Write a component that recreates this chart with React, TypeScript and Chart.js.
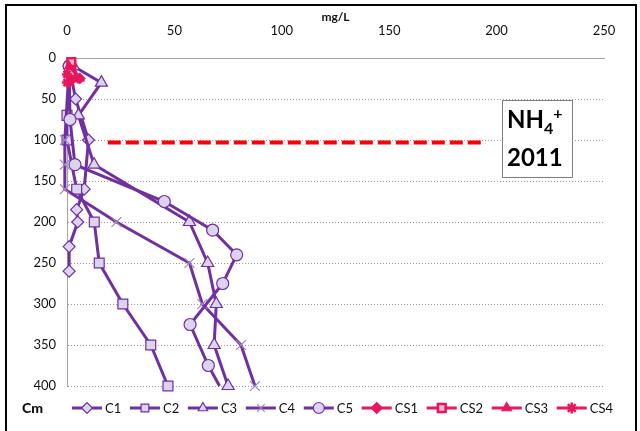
import React, { useEffect, useRef } from 'react';
import { Chart, registerables } from 'chart.js';
import { drawPoint } from 'chart.js/helpers';

Chart.register(...registerables);

// ---- data (concentration mg/L vs depth cm) ----
const c1Depth = [10, 50, 100, 160, 185, 200, 230, 260];
const c1Conc = [1, 4, 10, 8, 4.5, 5, 1, 1];

const c2Depth = [10, 70, 100, 160, 200, 250, 300, 350, 400];
const c2Conc = [1.5, 0, 0, 4.5, 12.7, 15, 26, 39, 47];

const c3Depth = [10, 30, 70, 130, 200, 250, 300, 350, 400];
const c3Conc = [3, 16, 5.3, 12.6, 57, 65.5, 69.5, 68.5, 75];

const c4Depth = [10, 100, 130, 160, 200, 250, 300, 350, 400];
const c4Conc = [1, -1, -1, -1, 23, 57, 63, 81, 87.5];

const c5Depth = [10, 75, 130, 175, 210, 240, 275, 325, 375, 400];
const c5Conc = [1, 1.4, 3.7, 45.3, 67.8, 79, 72.5, 57.3, 65.8, 71];

const cs1Depth = [10, 25, 30];
const cs1Conc = [2, 6, 1];
const cs2Depth = [5, 18];
const cs2Conc = [2, 2];
const cs3Depth = [10, 25, 30];
const cs3Conc = [1, 6, 1];
const cs4Depth = [20, 25, 30];
const cs4Conc = [0, 5, 0];

const refLineConc = [19, 195];
const refLineDepth = [103, 103];

const xMin = 0;
const xMax = 250;
const xStep = 50;
const yMin = 0;
const yMax = 400;
const yStep = 50;

const seriesLabels = ['C1', 'C2', 'C3', 'C4', 'C5', 'CS1', 'CS2', 'CS3', 'CS4'];

const PURPLE = '#7030A0';
const LAV = '#DCD4EC';
const PINK = '#E8175D';
const FONT = 'Lato, "Open Sans", sans-serif';

function pts(xs: number[], ys: number[]) {
  return xs.map((v, i) => ({ x: v, y: ys[i] }));
}

const legendPlugin = {
  id: 'customLegend',
  afterDraw(chart: any) {
    const ctx = chart.ctx as CanvasRenderingContext2D;
    ctx.save();
    ctx.font = '13px ' + FONT;
    ctx.textBaseline = 'middle';
    const items = chart.data.datasets.filter((d: any) => !d.noLegend);
    const lineLen = 30;
    const textGap = 3;
    const startX = 72;
    const endX = 613;
    let total = 0;
    items.forEach((d: any) => {
      total += lineLen + textGap + ctx.measureText(d.label).width;
    });
    const gap = (endX - startX - total) / (items.length - 1);
    const y = 408;
    let x = startX;
    items.forEach((d: any) => {
      ctx.setLineDash([]);
      ctx.strokeStyle = d.borderColor;
      ctx.lineWidth = d.borderWidth;
      ctx.beginPath();
      ctx.moveTo(x, y);
      ctx.lineTo(x + lineLen, y);
      ctx.stroke();
      ctx.fillStyle = d.pointBackgroundColor;
      ctx.strokeStyle = d.pointBorderColor;
      ctx.lineWidth = d.pointBorderWidth;
      drawPoint(ctx, { pointStyle: d.pointStyle, rotation: 0, radius: 5.5, borderWidth: d.pointBorderWidth } as any, x + lineLen / 2, y);
      ctx.fillStyle = '#111';
      ctx.fillText(d.label, x + lineLen + textGap, y + 1);
      x += lineLen + textGap + ctx.measureText(d.label).width + gap;
    });
    ctx.restore();
  },
};

export default function App() {
  const ref = useRef<HTMLCanvasElement | null>(null);

  useEffect(() => {
    if (!ref.current) return;
    const mk = (i: number, xs: number[], ys: number[], style: string, pink: boolean, extra: any = {}) => ({
      label: seriesLabels[i],
      data: pts(xs, ys),
      borderColor: pink ? PINK : PURPLE,
      borderWidth: 3,
      pointStyle: style,
      pointRadius: 6,
      pointBackgroundColor: pink ? PINK : LAV,
      pointBorderColor: pink ? PINK : PURPLE,
      pointBorderWidth: 1.2,
      showLine: true,
      tension: 0,
      clip: false,
      order: 20 - i,
      ...extra,
    });
    const datasets: any[] = [
      mk(0, c1Conc, c1Depth, 'rectRot', false, { pointRadius: 6 }),
      mk(1, c2Conc, c2Depth, 'rect', false, { pointRadius: 7 }),
      mk(2, c3Conc, c3Depth, 'triangle', false, { pointRadius: 7 }),
      mk(3, c4Conc, c4Depth, 'crossRot', false, { pointRadius: 7, pointBorderColor: '#9C86C8', pointBorderWidth: 1.2 }),
      mk(4, c5Conc, c5Depth, 'circle', false, {
        pointRadius: c5Depth.map((_, i) => (i === c5Depth.length - 1 ? 0 : 6)),
      }),
      mk(5, cs1Conc, cs1Depth, 'rectRot', true, { pointRadius: 5 }),
      mk(6, cs2Conc, cs2Depth, 'rect', true, { pointRadius: 5.5, pointBackgroundColor: '#F7B7CB', pointBorderWidth: 2.5 }),
      mk(7, cs3Conc, cs3Depth, 'triangle', true, { pointRadius: 5 }),
      mk(8, cs4Conc, cs4Depth, 'star', true, { pointRadius: 5, pointBorderWidth: 2.5 }),
      {
        label: '',
        noLegend: true,
        data: pts(refLineConc, refLineDepth),
        borderColor: '#FF0000',
        borderWidth: 4,
        borderDash: [13, 5],
        pointRadius: 0,
        showLine: true,
        order: 0,
      },
    ];

    const chart = new Chart(ref.current, {
      type: 'line',
      data: { datasets },
      options: {
        animation: false,
        responsive: false,
        maintainAspectRatio: false,
        layout: { padding: { left: 0, top: 0, right: 36, bottom: 45 } },
        plugins: { legend: { display: false }, tooltip: { enabled: false } },
        scales: {
          x: {
            type: 'linear',
            position: 'top',
            min: xMin,
            max: xMax,
            ticks: { stepSize: xStep, padding: 19, color: '#111', font: { family: FONT, size: 13 } },
            grid: { display: false, drawTicks: false },
            border: { display: true, color: '#A6A6A6', width: 1 },
            title: {
              display: true,
              text: 'mg/L',
              color: '#111',
              font: { family: FONT, size: 12, weight: 'bold' },
              padding: { top: 10, bottom: 0 },
            },
            afterFit: (s: any) => {
              s.height = 58;
            },
          },
          y: {
            type: 'linear',
            reverse: true,
            min: yMin,
            max: yMax,
            ticks: { stepSize: yStep, padding: 11, color: '#111', font: { family: FONT, size: 13 } },
            grid: { display: true, drawTicks: false, color: '#999', lineWidth: 1 },
            border: { display: true, color: '#A6A6A6', width: 1, dash: [1, 2] },
            afterFit: (s: any) => {
              s.width = 67;
            },
          },
        },
      } as any,
      plugins: [legendPlugin],
    });
    return () => chart.destroy();
  }, []);

  return (
    <div style={{ position: 'fixed', left: 0, top: 0, width: 640, height: 431, background: '#fff', overflow: 'hidden' }}>
      <canvas ref={ref} width={640} height={431} style={{ position: 'absolute', left: 0, top: 0, width: 640, height: 431 }} />
      <div
        style={{
          position: 'absolute',
          left: 5,
          top: 4,
          width: 628,
          height: 440,
          borderLeft: '2px solid #000',
          borderTop: '2px solid #000',
          borderRight: '2px solid #000',
          pointerEvents: 'none',
        }}
      />
      <div
        style={{
          position: 'absolute',
          left: 22,
          top: 399,
          fontFamily: FONT,
          fontWeight: 900,
          fontSize: 14,
          color: '#111',
        }}
      >
        Cm
      </div>
      <div
        style={{
          position: 'absolute',
          left: 502,
          top: 100,
          width: 71,
          height: 78,
          border: '1px solid #808080',
          background: '#fff',
          boxSizing: 'border-box',
        }}
      />
      <div
        style={{
          position: 'absolute',
          left: 507,
          top: 104,
          fontFamily: FONT,
          fontWeight: 'bold',
          fontSize: 24,
          lineHeight: '29px',
          color: '#000',
          whiteSpace: 'nowrap',
        }}
      >
        NH<span style={{ fontSize: 16, position: 'relative', top: 6 }}>4</span>
        <span style={{ fontSize: 16, position: 'relative', top: -9 }}>+</span>
      </div>
      <div
        style={{
          position: 'absolute',
          left: 507,
          top: 142,
          fontFamily: FONT,
          fontWeight: 'bold',
          fontSize: 24,
          lineHeight: '29px',
          color: '#000',
          whiteSpace: 'nowrap',
        }}
      >
        2011
      </div>
    </div>
  );
}
